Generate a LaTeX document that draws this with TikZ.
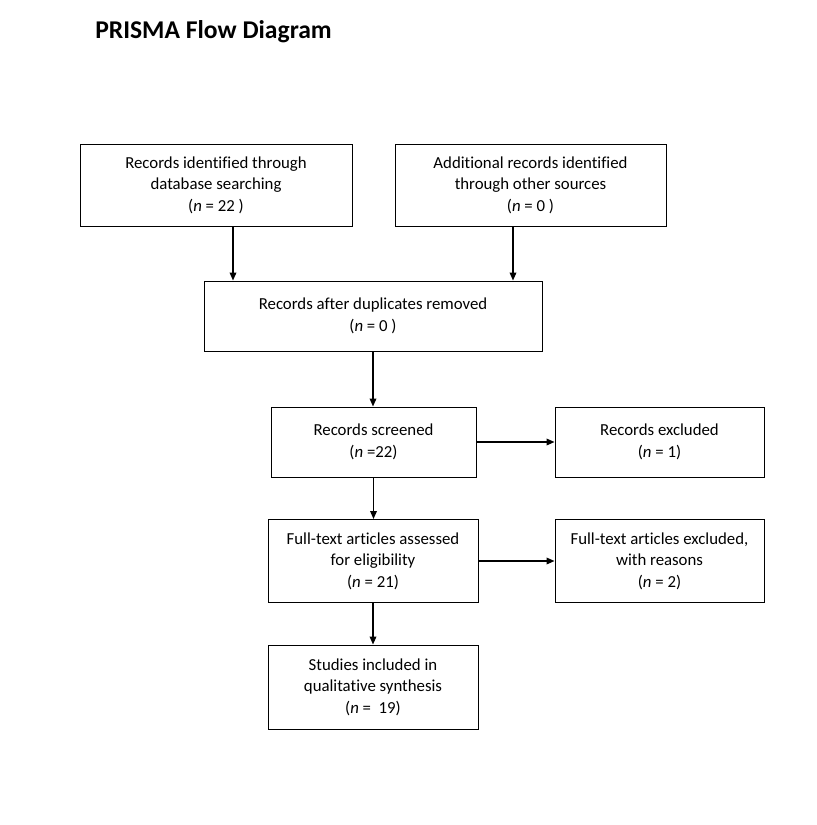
\documentclass[tikz,border=0pt]{standalone}
\usepackage{fontspec}
\setmainfont{Carlito}[Ligatures=NoCommon]
\usetikzlibrary{arrows.meta,calc}

\begin{document}
\begin{tikzpicture}[x=0.75pt,y=-0.75pt,>={Triangle[length=6pt,width=5pt]},
  box/.style={draw,line width=0.75pt,align=center,inner sep=2pt,font=\fontsize{12.6}{16.1}\selectfont},
  flow/.style={->,line width=1pt}]
  \useasboundingbox (0,0) rectangle (817,825);
  \node[anchor=west,inner sep=0pt,font=\fontsize{19.2}{22}\selectfont\bfseries] (title) at (95,32) {PRISMA Flow Diagram};

  \node[box,minimum width=204pt,minimum height=61.5pt] (db) at (216,185) {Records identified through\\database searching\\(\textit{n} = 22 )};
  \node[box,minimum width=203.25pt,minimum height=61.5pt] (other) at (530.5,185) {Additional records identified\\through other sources\\(\textit{n} = 0 )};
  \node[box,minimum width=253.5pt,minimum height=52.5pt] (dup) at (373,316) {Records after duplicates removed\\(\textit{n} = 0 )};
  \node[box,minimum width=153.75pt,minimum height=52.5pt] (screen) at (373.5,442) {Records screened\\(\textit{n} =22)};
  \node[box,minimum width=156.75pt,minimum height=52.5pt] (excl) at (659.5,442) {Records excluded\\(\textit{n} = 1)};
  \node[box,minimum width=157.5pt,minimum height=62.25pt] (full) at (373,561) {Full-text articles assessed\\for eligibility\\(\textit{n} = 21)};
  \node[box,minimum width=156.75pt,minimum height=62.25pt] (fullex) at (659.5,561) {Full-text articles excluded,\\with reasons\\(\textit{n} = 2)};
  \node[box,minimum width=157.5pt,minimum height=63pt] (incl) at (373,687) {Studies included in\\qualitative synthesis\\(\textit{n} =\ \ 19)};

  % arrows
  \draw[flow] ($(db.south)+(17,0)$) coordinate (db1) -- (db1 |- dup.north);
  \draw[flow] ($(other.south)+(-17.5,0)$) coordinate (ot1) -- (ot1 |- dup.north);
  \draw[flow] (dup.south) -- (dup.south |- screen.north);
  \draw[flow] (screen.east) -- (excl.west);
  \draw[flow] (screen.south) -- (screen.south |- full.north);
  \draw[flow] (full.east) -- (full.east -| fullex.west);
  \draw[flow] (full.south) -- (incl.north);
\end{tikzpicture}
\end{document}
